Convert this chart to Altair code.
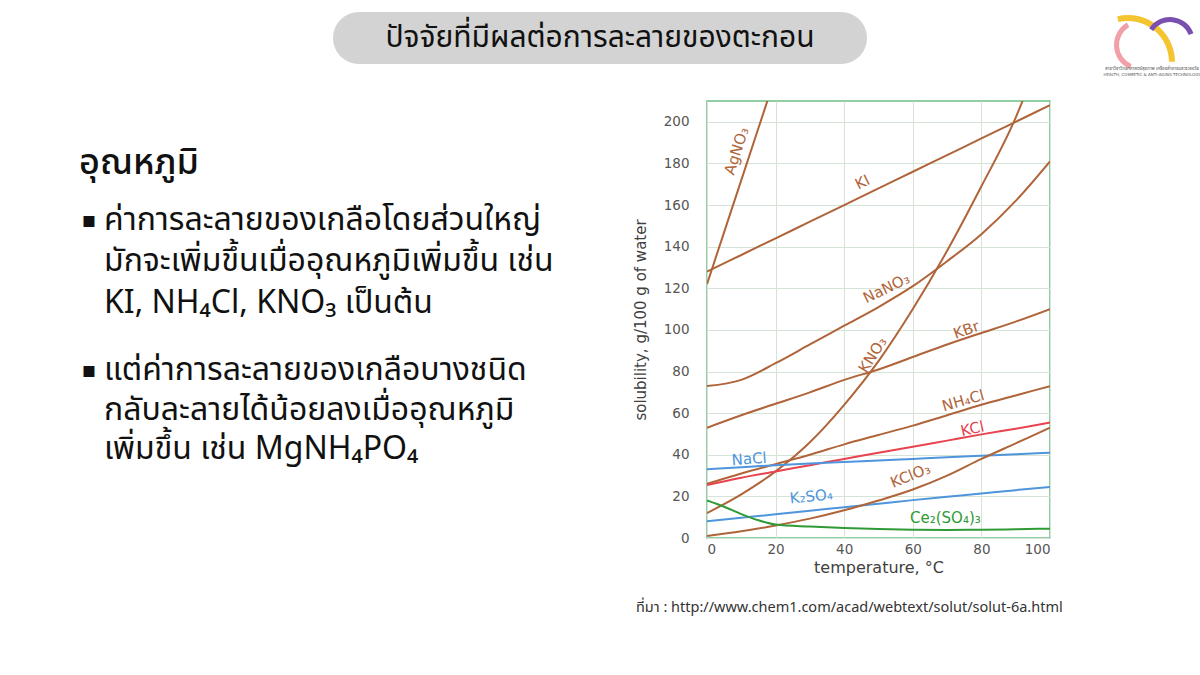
import altair as alt
import pandas as pd

# ---------------- data ----------------
temps = [0, 10, 20, 30, 40, 50, 60, 70, 80, 90, 100]
agno3_t = [0, 10, 20]
agno3 = [122, 172, 222]
ki = [128, 136, 144, 152, 160, 168, 176, 184, 192, 200, 208]
nano3 = [73, 76, 84, 93, 102, 111, 121, 133, 146, 162, 181]
kno3 = [12, 21, 32, 46, 64, 85, 110, 138, 169, 202, 246]
kbr = [53, 59, 64.5, 70, 76, 81, 87, 93, 98.5, 104, 110]
nh4cl = [26, 31, 35.5, 40, 45, 49.5, 54, 59, 64, 68.5, 73]
kcl = [25.5, 29, 32, 35, 38, 41, 43.8, 46.8, 49.8, 52.5, 55.5]
nacl = [33, 34, 35, 35.8, 36.5, 37.2, 38, 38.8, 39.5, 40.2, 41]
k2so4 = [8, 9.7, 11.4, 13.1, 14.8, 16.5, 18.2, 19.8, 21.4, 23, 24.5]
kclo3 = [1, 3.2, 6, 9.3, 13.3, 18, 23.3, 30, 38, 45.5, 53]
ce_t = [0, 5, 10, 15, 20, 30, 40, 50, 60, 70, 80, 90, 100]
ce = [18, 15, 11.5, 8.5, 6.5, 5.5, 4.8, 4.3, 4, 3.9, 4, 4.2, 4.5]

series_names = ["AgNO3", "KI", "NaNO3", "KNO3", "KBr", "NH4Cl", "KCl", "NaCl", "K2SO4", "KClO3", "Ce2(SO4)3"]
series_colors = ["#b0643a", "#b0643a", "#b0643a", "#b0643a", "#b0643a", "#b0643a",
                 "#e8434f", "#4e95dc", "#4e95dc", "#b0643a", "#2f9a36"]
series_widths = [2, 2, 3.2, 2, 2, 2, 2.2, 2.2, 2.2, 2, 2.2]

label_text = ["AgNO₃", "KI", "NaNO₃", "KNO₃", "KBr", "NH₄Cl", "KCl", "NaCl", "K₂SO₄", "KClO₃", "Ce₂(SO₄)₃"]
label_x = [8.6, 45.3, 52.3, 48.3, 75.6, 74.7, 77.4, 12.3, 30.4, 59.3, 69.5]
label_y = [186, 171, 120, 88, 100, 66, 52.5, 38, 20, 30, 9.5]
label_angle = [288, 334, 334, 302, 341, 344, 347, 356, 354, 338, 0]

y_ticks = list(range(0, 201, 20))
x_ticks = list(range(0, 101, 20))

title_th = "ปัจจัยที่มีผลต่อการละลายของตะกอน"
heading_th = "อุณหภูมิ"
bullet_lines = [
    "ค่าการละลายของเกลือโดยส่วนใหญ่",
    "มักจะเพิ่มขึ้นเมื่ออุณหภูมิเพิ่มขึ้น เช่น",
    "KI, NH₄Cl, KNO₃ เป็นต้น",
    "แต่ค่าการละลายของเกลือบางชนิด",
    "กลับละลายได้น้อยลงเมื่ออุณหภูมิ",
    "เพิ่มขึ้น เช่น MgNH₄PO₄",
]
source_text = "ที่มา : http://www.chem1.com/acad/webtext/solut/solut-6a.html"
logo_th = "สาขาวิชาวิทยาศาสตร์สุขภาพ เครื่องสำอางและชะลอวัย"
logo_en = "HEALTH, COSMETIC & ANTI-AGING TECHNOLOGY"

# ---------------- tables ----------------
values_map = {
    "AgNO3": (agno3_t, agno3), "KI": (temps, ki), "NaNO3": (temps, nano3),
    "KNO3": (temps, kno3), "KBr": (temps, kbr), "NH4Cl": (temps, nh4cl),
    "KCl": (temps, kcl), "NaCl": (temps, nacl), "K2SO4": (temps, k2so4),
    "KClO3": (temps, kclo3), "Ce2(SO4)3": (ce_t, ce),
}
rows = []
for name in series_names:
    ts, vs = values_map[name]
    for t, v in zip(ts, vs):
        rows.append({"salt": name, "t": t, "s": v})
df = pd.DataFrame(rows)

lab = pd.DataFrame({"salt": series_names, "txt": label_text, "t": label_x,
                    "s": label_y, "ang": label_angle})

FONT = "DejaVu Sans"
THAI = "Noto Sans Thai, Noto Sans, sans-serif"

color_scale = alt.Scale(domain=series_names, range=series_colors)
width_scale = alt.Scale(domain=series_names, range=series_widths)

xs = alt.X("t:Q", scale=alt.Scale(domain=[0, 100], nice=False),
           axis=alt.Axis(values=x_ticks, title="temperature, °C", grid=True, ticks=False,
                         labelPadding=4, titlePadding=4, labelFontSize=13.5, titleFontSize=16,
                         labelColor="#555555", titleColor="#404040", labelFont=FONT, titleFont=FONT,
                         titleFontWeight="normal", domain=False, gridColor="#d6e4d8"))
ys = alt.Y("s:Q", scale=alt.Scale(domain=[0, 210], nice=False),
           axis=alt.Axis(values=y_ticks, title="solubility, g/100 g of water", grid=True, ticks=False,
                         labelPadding=18, titlePadding=15, labelFontSize=13.5, titleFontSize=15,
                         labelColor="#555555", titleColor="#404040", labelFont=FONT, titleFont=FONT,
                         titleFontWeight="normal", domain=False, gridColor="#d6e4d8"))

lines = alt.Chart(df).mark_line(interpolate="monotone", clip=True).encode(
    x=xs, y=ys,
    color=alt.Color("salt:N", scale=color_scale, legend=None),
    strokeWidth=alt.StrokeWidth("salt:N", scale=width_scale, legend=None),
    detail="salt:N",
)

labels = alt.Chart(lab).mark_text(font=FONT, fontSize=15).encode(
    x="t:Q", y="s:Q", text="txt:N",
    angle=alt.Angle("ang:Q", scale=None),
    color=alt.Color("salt:N", scale=color_scale, legend=None),
)

one = pd.DataFrame({"k": [0]})
OX, OY = 707, 101  # plot origin on the slide


def px(v):
    return alt.value(v - OX)


def py(v):
    return alt.value(v - OY)


pill = alt.Chart(one).mark_rect(color="#d3d3d3", cornerRadius=26).encode(
    x=px(333), x2=px(867), y=py(12), y2=py(64))
title = alt.Chart(one).mark_text(text=title_th, font=THAI, fontSize=30, color="#111111",
                                 align="center", baseline="middle").encode(x=px(600), y=py(38))
heading = alt.Chart(one).mark_text(text=heading_th, font=THAI, fontSize=36, fontWeight=500,
                                   color="#111111", align="left", baseline="alphabetic").encode(
    x=px(79), y=py(174))

base_y = [230, 271, 313, 380, 420, 459]
text_layers = []
for ln, by in zip(bullet_lines, base_y):
    text_layers.append(alt.Chart(one).mark_text(text=ln, font=THAI, fontSize=32, color="#111111",
                                                align="left", baseline="alphabetic").encode(
        x=px(104), y=py(by)))
for by in [base_y[0], base_y[3]]:
    text_layers.append(alt.Chart(one).mark_text(text="▪", font=FONT, fontSize=22, color="#111111",
                                                align="center", baseline="alphabetic").encode(
        x=px(89), y=py(by - 3)))
source = alt.Chart(one).mark_text(text=source_text, font=THAI, fontSize=14.5, color="#333333",
                                  align="left", baseline="alphabetic").encode(x=px(636), y=py(612))

# logo (decorative)
logo_pink = alt.Chart(one).mark_arc(color="#f2a0a8", innerRadius=21, outerRadius=26,
                                    theta=3.55, theta2=5.75).encode(x=px(1140), y=py(45))
logo_yellow = alt.Chart(one).mark_arc(color="#f4c431", innerRadius=41, outerRadius=47,
                                      theta=6.05, theta2=7.85).encode(x=px(1128), y=py(62))
logo_purple = alt.Chart(one).mark_arc(color="#7a4fb0", innerRadius=20, outerRadius=25,
                                      theta=5.3, theta2=7.5).encode(x=px(1170), y=py(42))
logo_t1 = alt.Chart(one).mark_text(text=logo_th, font=THAI, fontSize=4.5, color="#555555",
                                   align="center", baseline="alphabetic").encode(x=px(1152), y=py(70))
logo_t2 = alt.Chart(one).mark_text(text=logo_en, font=FONT, fontSize=4, color="#555555",
                                   align="center", baseline="alphabetic").encode(x=px(1152), y=py(76))

chart = alt.layer(lines, labels, pill, title, heading, *text_layers, source,
                  logo_pink, logo_yellow, logo_purple, logo_t1, logo_t2).properties(
    width=343, height=437,
    autosize=alt.AutoSizeParams(type="none"),
    padding={"left": OX, "top": OY, "right": 1200 - OX - 343, "bottom": 675 - OY - 437},
    background="white",
).configure_view(stroke="#6cbf85", strokeWidth=1.5)

chart.save("out.html", embed_options={"renderer": "svg", "actions": False})
